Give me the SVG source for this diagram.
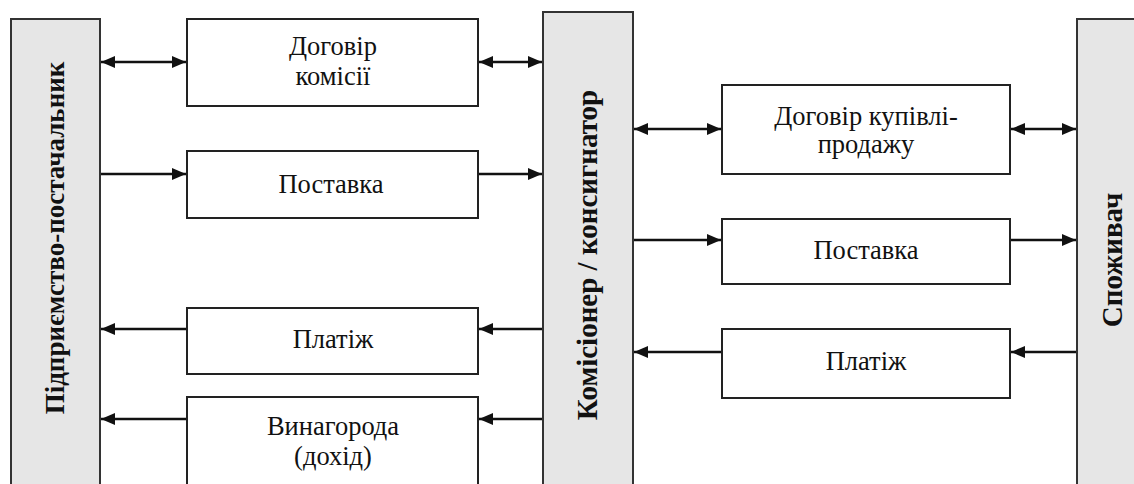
<svg xmlns="http://www.w3.org/2000/svg" width="1134" height="484" viewBox="0 0 1134 484">
  <style>
    .bar { fill: #e6e6e6; stroke: #333; stroke-width: 2; }
    .box { fill: #fff; stroke: #222; stroke-width: 2; }
    .bar-label { font-family: "Liberation Serif", "Times New Roman", serif; font-weight: bold; font-size: 27px; fill: #111; text-anchor: middle; }
    .bar-label.wide { font-size: 29px; }
    .box-label { font-family: "Liberation Serif", "Times New Roman", serif; font-size: 26.5px; fill: #111; text-anchor: middle; }
    .link { stroke: #111; stroke-width: 2.5; fill: none; }
  </style>
  <defs>
    <marker id="head" viewBox="0 0 14 12" refX="14" refY="6" markerWidth="14" markerHeight="12" markerUnits="userSpaceOnUse" orient="auto-start-reverse">
      <path d="M0,0 L14,6 L0,12 Z" fill="#111"/>
    </marker>
  </defs>
  <rect width="1134" height="484" fill="#fff"/>

  <!-- parties -->
  <g id="supplier">
    <rect class="bar" x="11" y="19" width="89" height="475"/>
    <text class="bar-label" transform="translate(64,238) rotate(-90)">Підприємство-постачальник</text>
  </g>
  <g id="commission-agent">
    <rect class="bar" x="543" y="12" width="90" height="482"/>
    <text class="bar-label wide" transform="translate(597,255) rotate(-90)">Комісіонер / консигнатор</text>
  </g>
  <g id="consumer">
    <rect class="bar" x="1077" y="19" width="70" height="475"/>
    <text class="bar-label wide" transform="translate(1122,260) rotate(-90)">Споживач</text>
  </g>

  <!-- flows between supplier and agent -->
  <g id="commission-contract">
    <rect class="box" x="187" y="19" width="291" height="87"/>
    <text class="box-label" x="333" y="55">Договір</text>
    <text class="box-label" x="333" y="85">комісії</text>
  </g>
  <g id="delivery-1">
    <rect class="box" x="187" y="151" width="291" height="67"/>
    <text class="box-label" x="331" y="193">Поставка</text>
  </g>
  <g id="payment-1">
    <rect class="box" x="187" y="308" width="291" height="66"/>
    <text class="box-label" x="333" y="348">Платіж</text>
  </g>
  <g id="fee">
    <rect class="box" x="187" y="397" width="291" height="97"/>
    <text class="box-label" x="333" y="435">Винагорода</text>
    <text class="box-label" x="333" y="465">(дохід)</text>
  </g>

  <!-- flows between agent and consumer -->
  <g id="sale-contract">
    <rect class="box" x="722" y="85" width="288" height="89"/>
    <text class="box-label" x="866" y="125">Договір купівлі-</text>
    <text class="box-label" x="866" y="153">продажу</text>
  </g>
  <g id="delivery-2">
    <rect class="box" x="722" y="219" width="288" height="65"/>
    <text class="box-label" x="866" y="259">Поставка</text>
  </g>
  <g id="payment-2">
    <rect class="box" x="722" y="329" width="288" height="69"/>
    <text class="box-label" x="866" y="370">Платіж</text>
  </g>

  <!-- connectors -->
  <g id="connectors">
    <line class="link" x1="101" y1="62" x2="186" y2="62" marker-start="url(#head)" marker-end="url(#head)"/>
    <line class="link" x1="479" y1="62" x2="542" y2="62" marker-start="url(#head)" marker-end="url(#head)"/>
    <line class="link" x1="101" y1="174" x2="186" y2="174" marker-end="url(#head)"/>
    <line class="link" x1="479" y1="174" x2="542" y2="174" marker-end="url(#head)"/>
    <line class="link" x1="186" y1="329" x2="101" y2="329" marker-end="url(#head)"/>
    <line class="link" x1="542" y1="329" x2="479" y2="329" marker-end="url(#head)"/>
    <line class="link" x1="186" y1="419" x2="101" y2="419" marker-end="url(#head)"/>
    <line class="link" x1="542" y1="419" x2="479" y2="419" marker-end="url(#head)"/>

    <line class="link" x1="634" y1="129" x2="721" y2="129" marker-start="url(#head)" marker-end="url(#head)"/>
    <line class="link" x1="1011" y1="129" x2="1076" y2="129" marker-start="url(#head)" marker-end="url(#head)"/>
    <line class="link" x1="634" y1="240" x2="721" y2="240" marker-end="url(#head)"/>
    <line class="link" x1="1011" y1="240" x2="1076" y2="240" marker-end="url(#head)"/>
    <line class="link" x1="721" y1="352" x2="634" y2="352" marker-end="url(#head)"/>
    <line class="link" x1="1076" y1="352" x2="1011" y2="352" marker-end="url(#head)"/>
  </g>
</svg>
